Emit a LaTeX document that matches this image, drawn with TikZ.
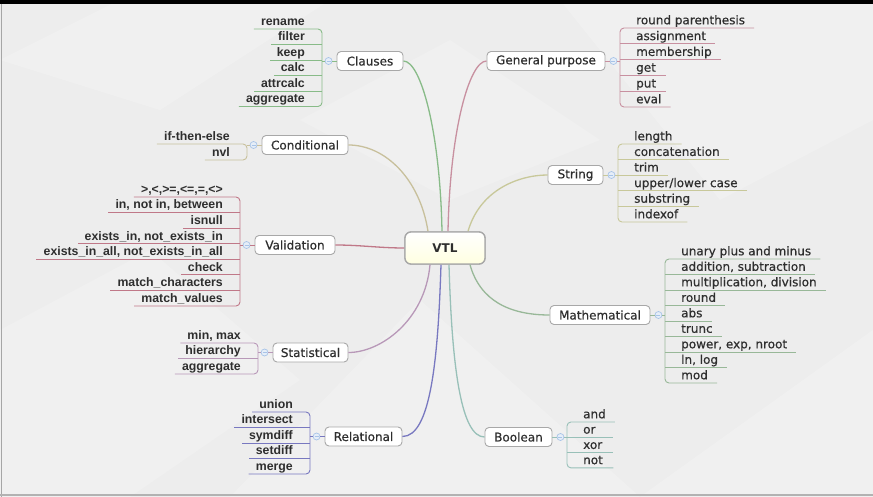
\documentclass[tikz,border=0pt]{standalone}
\usepackage{fontspec}
\setmainfont{DejaVu Sans}
\newfontfamily\medfamily{DejaVu Sans}[FakeBold=0.5]
\newfontfamily\lkfamily{Liberation Sans}
\definecolor{cClauses}{HTML}{88BB88}
\definecolor{cGP}{HTML}{C890A0}
\definecolor{cCond}{HTML}{C8C09C}
\definecolor{cString}{HTML}{C8C89A}
\definecolor{cValid}{HTML}{C07888}
\definecolor{cMath}{HTML}{98B898}
\definecolor{cStat}{HTML}{B898B8}
\definecolor{cRel}{HTML}{7878C0}
\definecolor{cBool}{HTML}{98C0B8}
\definecolor{boxgray}{HTML}{A8A8A8}
\definecolor{bgcol}{HTML}{EDEDED}
\definecolor{txt}{HTML}{2E2E2E}
\definecolor{circline}{HTML}{A8C4E8}
\definecolor{circfill}{HTML}{E6EEF8}
\newcommand\kidtext[1]{\setbox0\hbox{#1}\ifdim\wd0<21pt\makebox[21pt][l]{#1}\else\box0\fi}
\tikzset{
  bbox/.style={draw=boxgray, fill=white, rounded corners=4pt, line width=0.9pt,
    minimum height=19pt, inner xsep=0pt, inner ysep=0pt, text=txt,
    font=\medfamily\fontsize{12}{14}\selectfont},
  rootbox/.style={draw=boxgray, rounded corners=6pt, line width=1.3pt,
    top color=white, bottom color=yellow!12!white, minimum width=80pt,
    minimum height=32pt, text=txt, font=\bfseries\fontsize{12}{14}\selectfont},
  rkid/.style={inner sep=0pt, text depth=3.5pt, text height=9pt, text=txt,
    font=\medfamily\fontsize{12}{14}\selectfont},
  lkid/.style={inner sep=0pt, text depth=3.5pt, text height=9pt, text=txt,
    font=\lkfamily\bfseries\fontsize{12.3}{14}\selectfont},
  collapse/.style={circle, draw=circline, fill=circfill, line width=0.7pt,
    minimum size=7pt, inner sep=0pt},
  kline/.style={line width=0.9pt},
  conn/.style={line width=1.3pt},
}
\newcommand\rbranch[7]{%
  \node[collapse] (#1c) at ([xshift=8pt]#1box.east) {};
  \draw[kline,#2] (#1box.east) -- (#1c.west);
  \foreach \t [count=\i] in {#7} {
    \coordinate (#1k\i) at (#3,{#4+#5*(\i-1)});
    \node[rkid,anchor=south west] (#1\i) at ({#3+16},{#4+#5*(\i-1)}) {\kidtext{\t}};
  }
  \draw[kline,#2] (#1c.east) -- (#1c.east -| #1k1);
  \draw[circline,line width=0.6pt] ([xshift=-2pt]#1c.center) -- ([xshift=2pt]#1c.center);
  \foreach \i in {1,...,#6} {\ifnum\i>1 \ifnum\i<#6
    \draw[kline,#2] (#1k\i) -- ([xshift=9pt]#1\i.south east);\fi\fi}
  \draw[kline,#2,rounded corners=4pt] ([xshift=9pt]#11.south east) -- (#1k1)
    -- (#1k#6) -- ([xshift=9pt]#1#6.south east);
}
\newcommand\lbranch[7]{%
  \node[collapse] (#1c) at ([xshift=-8pt]#1box.west) {};
  \draw[kline,#2] (#1box.west) -- (#1c.east);
  \foreach \t [count=\i] in {#7} {
    \coordinate (#1k\i) at (#3,{#4+#5*(\i-1)});
    \node[lkid,anchor=south east] (#1\i) at ({#3-17},{#4+#5*(\i-1)}) {\t};
  }
  \draw[kline,#2] (#1c.west) -- (#1c.west -| #1k1);
  \draw[circline,line width=0.6pt] ([xshift=-2pt]#1c.center) -- ([xshift=2pt]#1c.center);
  \foreach \i in {1,...,#6} {\ifnum\i>1 \ifnum\i<#6
    \draw[kline,#2] (#1k\i) -- ([xshift=-7pt]#1\i.south west);\fi\fi}
  \draw[kline,#2,rounded corners=4pt] ([xshift=-7pt]#11.south west) -- (#1k1)
    -- (#1k#6) -- ([xshift=-7pt]#1#6.south west);
}
\begin{document}
\begin{tikzpicture}[x=1pt,y=-1pt]
\useasboundingbox (0,0) rectangle (873,497);
% background
\fill[bgcol] (0,0) rectangle (873,497);
\fill[white,opacity=0.22] (0,60) -- (120,0) -- (330,0) -- (160,110) -- cycle;
\fill[white,opacity=0.2] (560,0) -- (873,0) -- (873,120) -- (720,200) -- cycle;
\fill[white,opacity=0.2] (230,497) -- (420,300) -- (640,497) -- cycle;
\fill[white,opacity=0.22] (640,497) -- (873,330) -- (873,497) -- cycle;
\fill[white,opacity=0.18] (0,330) -- (150,250) -- (300,380) -- (130,497) -- (0,497) -- cycle;
\fill[white,opacity=0.18] (300,120) -- (450,40) -- (600,140) -- (450,200) -- cycle;
% frame
\fill[black] (0,0) rectangle (873,4);
\draw[gray!70,line width=1pt] (1.5,4) -- (1.5,497);
\draw[gray!60,line width=2pt] (0,495) -- (873,495);

% root
\node[rootbox] (vtl) at (445,248) {VTL};

% branch boxes
\node[bbox,minimum width=66pt]  (clbox) at (370,61) {Clauses};
\node[bbox,minimum width=118pt] (gpbox) at (546,61) {General purpose};
\node[bbox,minimum width=86pt]  (cobox) at (305,145) {Conditional};
\node[bbox,minimum width=55pt]  (stbox) at (575.5,175) {String};
\node[bbox,minimum width=80pt]  (vabox) at (295,245) {Validation};
\node[bbox,minimum width=100pt] (mabox) at (600,315) {Mathematical};
\node[bbox,minimum width=75pt]  (sabox) at (310.5,352.5) {Statistical};
\node[bbox,minimum width=77pt]  (rebox) at (363.5,436.5) {Relational};
\node[bbox,minimum width=67pt]  (bobox) at (518.5,437) {Boolean};

% connectors from root
\draw[conn,cClauses] ([xshift=-3pt]vtl.north) .. controls +(-2,-102) and +(17,0) .. (clbox.east);
\draw[conn,cGP] ([xshift=3pt]vtl.north) .. controls +(2,-102) and +(-17,0) .. (gpbox.west);
\draw[conn,cCond] ([xshift=-17pt]vtl.north) .. controls +(-8,-52) and +(37,0) .. (cobox.east);
\draw[conn,cString] ([xshift=23pt]vtl.north) .. controls +(12,-42) and +(-28,0) .. (stbox.west);
\draw[conn,cValid] (vtl.west) .. controls +(-25,0) and +(25,0) .. (vabox.east);
\draw[conn,cStat] ([xshift=-15pt]vtl.south) .. controls +(-5,56) and +(32,0) .. (sabox.east);
\draw[conn,cRel] ([xshift=-4pt]vtl.south) .. controls +(-3,96) and +(28,0) .. (rebox.east);
\draw[conn,cBool] ([xshift=4pt]vtl.south) .. controls +(3,106) and +(-23,0) .. (bobox.west);
\draw[conn,cMath] ([xshift=25pt]vtl.south) .. controls +(10,36) and +(-40,0) .. (mabox.west);
\node[rootbox] at (vtl) {VTL};

% children
\lbranch{cl}{cClauses}{322}{29}{15.5}{6}{rename,filter,keep,calc,attrcalc,aggregate}
\rbranch{gp}{cGP}{620}{28}{15.8}{6}{round parenthesis,assignment,membership,get,put,eval}
\lbranch{co}{cCond}{247}{144}{16}{2}{if-then-else,nvl}
\rbranch{st}{cString}{618}{144}{15.6}{6}{length,concatenation,trim,upper/lower case,substring,indexof}
\lbranch{va}{cValid}{240}{197}{15.57}{8}{{>,<,>=,<=,=,<>},{in, not in, between},isnull,{exists\_in, not\_exists\_in},{exists\_in\_all, not\_exists\_in\_all},check,match\_characters,match\_values}
\rbranch{ma}{cMath}{665}{259}{15.5}{9}{unary plus and minus,{addition, subtraction},{multiplication, division},round,abs,trunc,{power, exp, nroot},{ln, log},mod}
\lbranch{sa}{cStat}{258}{343}{15.5}{3}{{min, max},hierarchy,aggregate}
\lbranch{re}{cRel}{310}{412}{15.5}{5}{union,intersect,symdiff,setdiff,merge}
\rbranch{bo}{cBool}{567}{422}{15.3}{4}{and,or,xor,not}
\end{tikzpicture}
\end{document}
